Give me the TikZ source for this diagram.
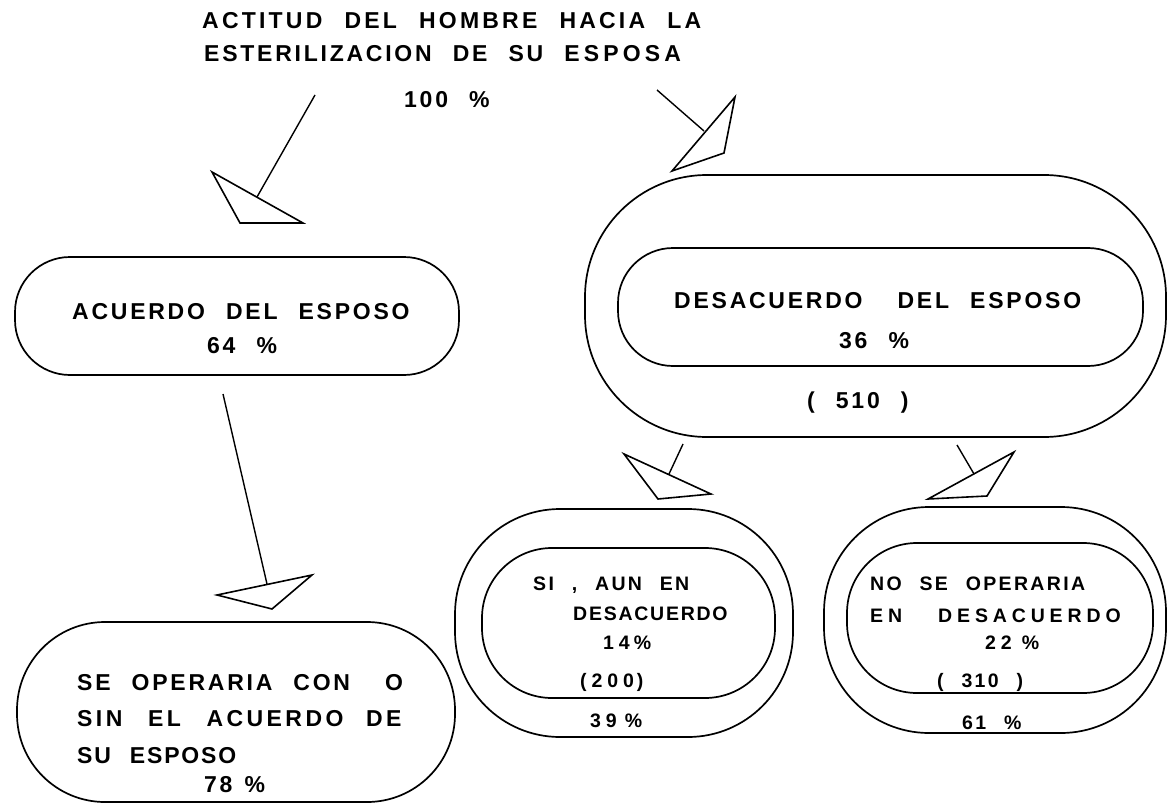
\documentclass[tikz,border=0pt]{standalone}
\usepackage{fontspec}
\newfontfamily\lett{Liberation Sans}[LetterSpace=12,WordSpace=2.3]
\begin{document}
\begin{tikzpicture}[x=1pt,y=-1pt,
  box/.style={draw,line width=1.7pt,inner sep=0pt,outer sep=0pt},
  conn/.style={line width=1.4pt},
  head/.style={line width=1.6pt,line join=miter},
  txt/.style={anchor=west,inner sep=0pt,text height=16pt,text depth=0pt,font=\lett\bfseries\fontsize{23}{23}\selectfont},
  sm/.style={anchor=west,inner sep=0pt,text height=14pt,text depth=0pt,font=\lett\bfseries\fontsize{19.5}{19.5}\selectfont},
]
\useasboundingbox (0,0) rectangle (1169,805);
\fill[white] (0,0) rectangle (1169,805);

% title
\node[txt,font=\lett\bfseries\fontsize{23}{23}\selectfont\addfontfeatures{LetterSpace=14}] (title1) at (202,21) {ACTITUD DEL HOMBRE HACIA LA};
\node[txt] (title2) at (204,54) {ESTERILIZACION DE SU \addfontfeatures{LetterSpace=18}ESPOSA};
\node[txt] (cien) at (404,100) {100 \%};

% boxes
\node[box,rounded corners=55pt,minimum width=444pt,minimum height=118pt] (acuerdo) at (237,316) {};
\node[box,rounded corners=88pt,minimum width=438pt,minimum height=180pt] (seop) at (236,712) {};
\node[box,rounded corners=122pt,minimum width=581pt,minimum height=262pt] (desout) at (875.5,306) {};
\node[box,rounded corners=55pt,minimum width=525pt,minimum height=118pt] (desin) at (880.5,307) {};
\node[box,rounded corners=105pt,minimum width=338pt,minimum height=228pt] (siout) at (624,623) {};
\node[box,rounded corners=70pt,minimum width=293pt,minimum height=150pt] (siin) at (628.5,623) {};
\node[box,rounded corners=105pt,minimum width=342pt,minimum height=226pt] (noout) at (995,620) {};
\node[box,rounded corners=70pt,minimum width=306pt,minimum height=150pt] (noin) at (1000,618) {};

% texts in boxes
\node[txt] (acT) at (72,311) {ACUERDO DEL ESPOSO};
\node[txt] (acP) at (207,345) {64 \%};

\node[txt] (deT) at (674,300) {DESACUERDO\hspace{14pt} DEL ESPOSO};
\node[txt] (deP) at (839,340) {36 \%};
\node[txt] (deN) at (807,400) {( 510 )};

\node[txt] (se1) at (77,682) {SE OPERARIA CON\hspace{14pt} O};
\node[txt,font=\lett\bfseries\fontsize{23}{23}\selectfont\addfontfeatures{LetterSpace=15}] (se2) at (77,718) {SIN\hspace{3pt} EL\hspace{3pt} ACUERDO DE};
\node[txt,font=\lett\bfseries\fontsize{23}{23}\selectfont\addfontfeatures{LetterSpace=8}] (se3) at (77,755) {SU ESPOSO};
\node[txt] (seP) at (204,784) {78\hspace{12pt}\%};

\node[sm] (si1) at (533,583) {SI , AUN EN};
\node[sm,font=\lett\bfseries\fontsize{19.5}{19.5}\selectfont\addfontfeatures{LetterSpace=9}] (si2) at (573,613) {DESACUERDO};
\node[sm,font=\lett\bfseries\fontsize{19.5}{19.5}\selectfont\addfontfeatures{LetterSpace=25}] (si3) at (603,642) {14\hspace{4pt}\%};
\node[sm,font=\lett\bfseries\fontsize{19.5}{19.5}\selectfont\addfontfeatures{LetterSpace=25}] (si4) at (580,680) {(\hspace{5pt}200\hspace{3pt})};
\node[sm,font=\lett\bfseries\fontsize{19.5}{19.5}\selectfont\addfontfeatures{LetterSpace=25}] (si5) at (590,720) {39\hspace{8pt}\%};

\node[sm] (no1) at (870,583) {NO SE OPERARIA};
\node[sm,font=\lett\bfseries\fontsize{19.5}{19.5}\selectfont\addfontfeatures{LetterSpace=25}] (no2) at (870,615) {EN\hspace{36pt}DESACUERDO};
\node[sm,font=\lett\bfseries\fontsize{19.5}{19.5}\selectfont\addfontfeatures{LetterSpace=25}] (no3) at (985,642) {22\hspace{10pt}\%};
\node[sm] (no4) at (937,680) {( 310 )};
\node[sm] (no5) at (962,722) {61 \%};

% connectors (line + open triangular head)
\coordinate (a1s) at (315,95);  \coordinate (a1e) at (257,197);
\coordinate (h1a) at (212,172); \coordinate (h1b) at (240,223); \coordinate (h1c) at (303,223);
\draw[conn] (a1s) -- (a1e);
\draw[head] (h1a) -- (h1b) -- (h1c) -- cycle;

\coordinate (a2s) at (657,90);  \coordinate (a2e) at (704,131);
\coordinate (h2a) at (735,97);  \coordinate (h2b) at (724,153); \coordinate (h2c) at (672,171);
\draw[conn] (a2s) -- (a2e);
\draw[head] (h2a) -- (h2b) -- (h2c) -- cycle;

\coordinate (a3s) at (223,394); \coordinate (a3e) at (267,584);
\coordinate (h3a) at (217,595); \coordinate (h3b) at (312,575); \coordinate (h3c) at (272,609);
\draw[conn] (a3s) -- (a3e);
\draw[head] (h3a) -- (h3b) -- (h3c) -- cycle;

\coordinate (a4s) at (683,444); \coordinate (a4e) at (669,474);
\coordinate (h4a) at (624,454); \coordinate (h4b) at (711,494); \coordinate (h4c) at (658,499);
\draw[conn] (a4s) -- (a4e);
\draw[head] (h4a) -- (h4b) -- (h4c) -- cycle;

\coordinate (a5s) at (957,445); \coordinate (a5e) at (974,474);
\coordinate (h5a) at (1014,452); \coordinate (h5b) at (987,496); \coordinate (h5c) at (928,499);
\draw[conn] (a5s) -- (a5e);
\draw[head] (h5a) -- (h5b) -- (h5c) -- cycle;
\end{tikzpicture}
\end{document}
